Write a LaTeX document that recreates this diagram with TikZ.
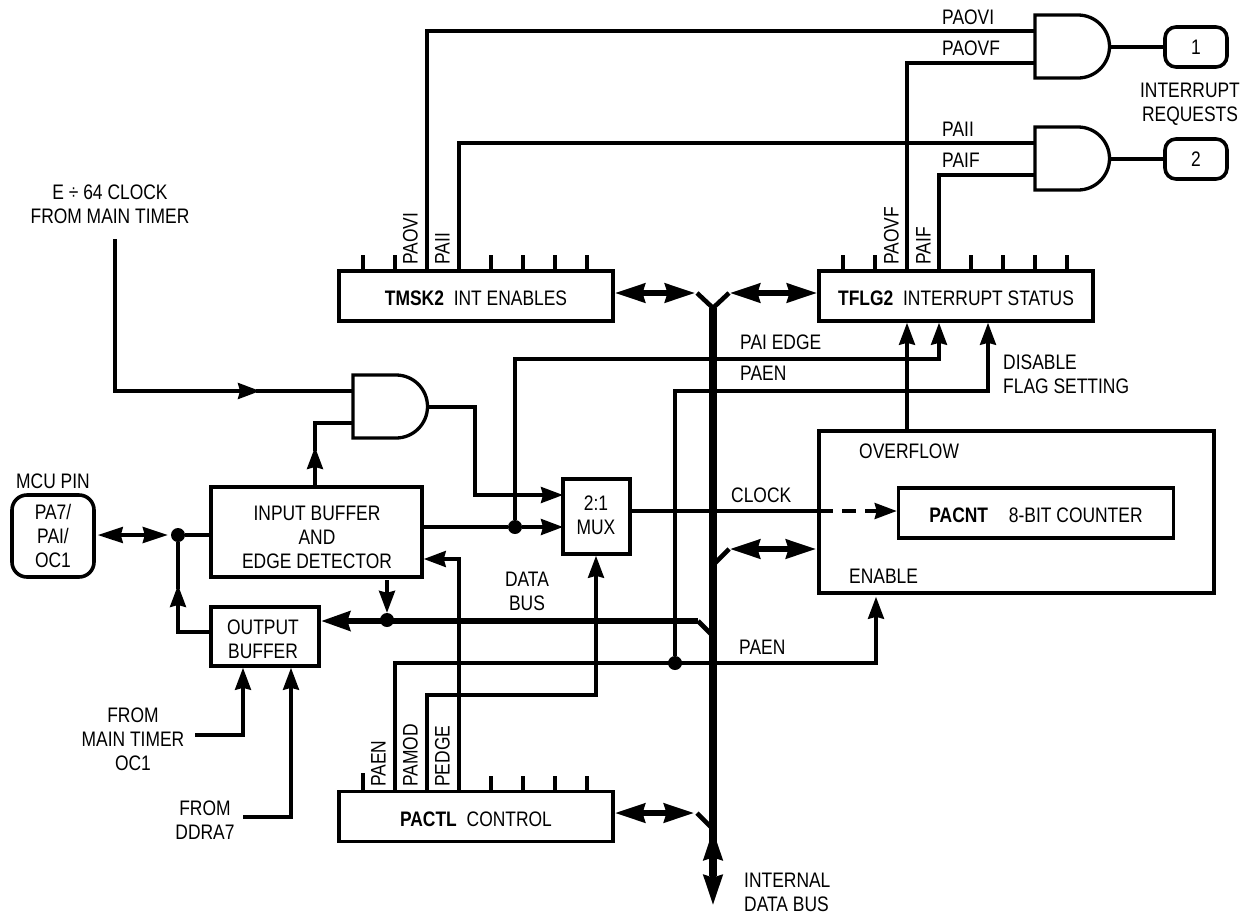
\documentclass[tikz,border=0pt]{standalone}
\usepackage{fontspec}
\setmainfont[FakeStretch=0.83]{Liberation Sans}
\usetikzlibrary{arrows.meta}
\newcommand{\lblfont}{\fontsize{21}{24}\selectfont}
\newcommand{\andgate}[3]{%
  \draw[gateline] (#2,#3) -- ++(43,0) arc[start angle=-90,end angle=90,radius=31.5] -- ++(-43,0) -- cycle;
  \coordinate (#1-a) at (#2,#3+16);
  \coordinate (#1-b) at (#2,#3+48);
  \coordinate (#1-o) at (#2+74,#3+32);
}
\tikzset{
  lbl/.style={font=\lblfont,inner sep=0pt,align=center},
  llbl/.style={lbl,anchor=west},
  vlbl/.style={lbl,rotate=90,anchor=west,text height=15pt,text depth=0pt},
  box/.style={lbl,draw,line width=3.6pt},
  regbox/.style={box,minimum width=274pt,minimum height=50pt,text height=19pt,text depth=0pt},
  term/.style={box,rounded corners=11pt,minimum width=62pt,minimum height=40pt},
  gateline/.style={line width=3.3pt,line join=miter},
  wire/.style={line width=3.3pt},
  arr/.style={wire,-{Stealth[length=22pt,width=16pt,inset=2pt]}},
  tick/.style={line width=3.3pt},
  junct/.style={circle,fill,inner sep=0pt,minimum size=14pt},
  busline/.style={line width=7.5pt},
  dbus/.style={line width=6.8pt,-{Stealth[length=29pt,width=19pt,inset=2.5pt]}},
  bra/.style={line width=4.6pt},
  biarr/.style={line width=5.4pt,{Stealth[length=30pt,width=19pt,inset=2.5pt]}-{Stealth[length=30pt,width=19pt,inset=2.5pt]}},
  biwire/.style={wire,{Stealth[length=25pt,width=16pt,inset=2pt]}-{Stealth[length=25pt,width=16pt,inset=2pt]}},
}
\begin{document}
\begin{tikzpicture}[x=1pt,y=-1pt]
  \useasboundingbox (0,0) rectangle (1247,916);

  % registers
  \node[regbox] (tmsk) at (476,296) {\textbf{TMSK2}\hspace{5pt} INT ENABLES};
  \node[regbox] (tflg) at (956,296) {\textbf{TFLG2}\hspace{5pt} INTERRUPT STATUS};
  \node[regbox] (pactl) at (476,816.5) {\textbf{PACTL}\hspace{5pt} CONTROL};
  \foreach \x in {363,395,491,523,555,587} \draw[tick] (\x,255) -- (\x,271);
  \foreach \x in {843,875,971,1003,1035,1067} \draw[tick] (\x,255) -- (\x,271);
  \foreach \x in {491,523,555,587} \draw[tick] (\x,776) -- (\x,791);
  \draw[tick] (363,773) -- (363,791);

  % blocks
  \node[box,rounded corners=15pt,minimum width=82pt,minimum height=82pt] (pin) at (53,536) {PA7/\\PAI/\\OC1};
  \node[box,minimum width=211pt,minimum height=90pt] (ibuf) at (316.5,532) {};
  \node[lbl] (ibuftxt) at (317,537) {INPUT BUFFER\\AND\\EDGE DETECTOR};
  \node[box,minimum width=108pt,minimum height=59pt] (obuf) at (265,636.5) {};
  \node[lbl] (obuftxt) at (263,639) {OUTPUT\\BUFFER};
  \node[box,minimum width=67pt,minimum height=75pt] (mux) at (596.5,516.5) {};
  \node[lbl] (muxtxt) at (596,515) {2:1\\MUX};
  \node[box,minimum width=395pt,minimum height=162pt] (ovfbox) at (1016.5,512) {};
  \node[regbox,minimum width=275pt] (cntbox) at (1036,513) {\textbf{PACNT}\hspace{16pt} 8-BIT COUNTER};
  \node[term] (tone) at (1196,47) {1};
  \node[term] (ttwo) at (1196,159) {2};

  % gates
  \andgate{gatea}{1035}{15}
  \andgate{gateb}{1035}{127}
  \andgate{gatec}{353}{375}
  \draw[wire] (gatea-o) -- (tone);
  \draw[wire] (gateb-o) -- (ttwo);

  % junctions
  \node[junct] (dotpin) at (178,535) {};
  \node[junct] (dotdata) at (387,620) {};
  \node[junct] (dotedge) at (515,527) {};
  \node[junct] (dotpaen) at (675,663) {};

  % register bits to gates
  \coordinate (paovi) at (427,271);
  \coordinate (paii) at (459,271);
  \coordinate (paovf) at (907,271);
  \coordinate (paif) at (939,271);
  \draw[wire] (paovi) |- (gatea-a);
  \draw[wire] (paii) |- (gateb-a);
  \draw[wire] (paovf) |- (gatea-b);
  \draw[wire] (paif) |- (gateb-b);

  % clock path
  \coordinate (clkin) at (115,239);
  \coordinate (clktip) at (260,391);
  \coordinate (ibufup) at (315,487);
  \coordinate (ibuftip) at (315,447);
  \coordinate (muxa) at (563,495);
  \coordinate (muxb) at (563,527);
  \coordinate (corner) at (475,407);
  \coordinate (ibufr) at (422,527);
  \coordinate (muxo) at (630,511);
  \coordinate (clkbox) at (819,511);
  \draw[arr] (clkin) |- (clktip);
  \draw[wire,shorten <=-4pt] (clktip) -- (gatec-a);
  \draw[arr] (ibufup) -- (ibuftip);
  \draw[wire,shorten <=-4pt] (ibuftip) |- (gatec-b);
  \draw[arr] (gatec-o) -| (corner |- muxa) -- (muxa);
  \draw[wire] (ibufr) -- (dotedge);
  \draw[arr] (dotedge) -- (muxb);
  \draw[wire] (muxo) -- (clkbox);
  \draw[arr,dash pattern=on 14pt off 9pt] (clkbox) -- (clkbox -| cntbox.west);

  % flags and status
  \coordinate (ovfup) at (907,431);
  \coordinate (edgec) at (939,359);
  \coordinate (disc) at (988,391);
  \draw[arr] (ovfup) -- (ovfup |- tflg.south);
  \draw[arr] (dotedge) |- (edgec) -- (edgec |- tflg.south);
  \draw[arr] (dotpaen) |- (disc) -- (disc |- tflg.south);

  % control bits
  \coordinate (paen) at (395,791);
  \coordinate (pamod) at (427,791);
  \coordinate (pedge) at (459,791);
  \coordinate (enc) at (876,663);
  \coordinate (modc) at (596,695);
  \coordinate (pedc) at (459,559);
  \draw[arr,shorten >=2pt] (paen) |- (enc) -- (enc |- ovfbox.south);
  \draw[arr] (pamod) |- (modc) -- (modc |- mux.south);
  \draw[arr] (pedge) -- (pedc) -- (pedc -| ibuf.east);

  % pin and output buffer
  \coordinate (obufl) at (211,632);
  \coordinate (obuftip) at (178,585);
  \coordinate (ibufd) at (387,580);
  \coordinate (ibufl) at (211,535);
  \draw[biwire,shorten <=2pt,shorten >=3pt] (pin.east |- dotpin) -- (dotpin);
  \draw[wire] (dotpin) -- (ibufl);
  \draw[arr] (obufl) -| (obuftip);
  \draw[wire,shorten <=-4pt] (obuftip) -- (dotpin);
  \draw[arr] (ibufd) -- (dotdata);

  % inputs to output buffer
  \coordinate (oca) at (195,735);
  \coordinate (ocb) at (243,735);
  \coordinate (dda) at (243,817);
  \coordinate (ddb) at (291,817);
  \draw[arr] (oca) -- (ocb) -- (ocb |- obuf.south);
  \draw[arr] (dda) -- (ddb) -- (ddb |- obuf.south);

  % internal data bus
  \coordinate (bustop) at (713,308);
  \coordinate (busend) at (713,876);
  \coordinate (busa) at (713,830);
  \coordinate (busb) at (713,905);
  \coordinate (yl) at (697,293);
  \coordinate (yr) at (729,293);
  \coordinate (ylarr) at (695,293);
  \coordinate (yrarr) at (730,293);
  \coordinate (sbra) at (713,565);
  \coordinate (sbrb) at (729,549);
  \coordinate (dbra) at (713,636);
  \coordinate (dbrb) at (698,621);
  \coordinate (cbra) at (713,829);
  \coordinate (cbrb) at (697,813);
  \coordinate (tlarr) at (615,293);
  \coordinate (trarr) at (817,293);
  \coordinate (slarr) at (730,549);
  \coordinate (srarr) at (816,549);
  \coordinate (clarr) at (615,813);
  \coordinate (crarr) at (694,813);
  \draw[busline] (bustop) -- (busend);
  \draw[bra,line join=miter] (yl) -- (bustop) -- (yr);
  \draw[biarr] (busa) -- (busb);
  \draw[biarr] (tlarr) -- (ylarr);
  \draw[biarr] (yrarr) -- (trarr);
  \draw[biarr] (slarr) -- (srarr);
  \draw[biarr] (clarr) -- (crarr);
  \draw[bra] (sbra) -- (sbrb);
  \draw[bra] (dbra) -- (dbrb);
  \draw[bra] (cbra) -- (cbrb);
  \draw[dbus] (dbrb) -- (obuf.east |- dbrb);

  % labels
  \node[llbl] (lpaovi) at (942,17) {PAOVI};
  \node[llbl] (lpaovf) at (942,48) {PAOVF};
  \node[llbl] (lpaii) at (942,129) {PAII};
  \node[llbl] (lpaif) at (942,160) {PAIF};
  \node[lbl] (lint) at (1190,104) {INTERRUPT\\REQUESTS};
  \node[lbl] (lclk) at (110,204) {E ÷ 64 CLOCK\\FROM MAIN TIMER};
  \node[llbl] (ledge) at (740,342) {PAI EDGE};
  \node[llbl] (lpaen) at (740,373) {PAEN};
  \node[lbl,anchor=west,align=left] (ldis) at (1003,374) {DISABLE\\FLAG SETTING};
  \node[lbl] (lmcu) at (53,481) {MCU PIN};
  \node[llbl] (lclock) at (731,495) {CLOCK};
  \node[llbl] (lovf) at (859,451) {OVERFLOW};
  \node[llbl] (lena) at (849,576) {ENABLE};
  \node[lbl] (ldata) at (527,591) {DATA\\BUS};
  \node[llbl] (lpaen2) at (739,647) {PAEN};
  \node[lbl] (lfrom) at (133,739) {FROM\\MAIN TIMER\\OC1};
  \node[lbl] (lddr) at (205,820) {FROM\\DDRA7};
  \node[lbl,anchor=west,align=left] (lbus) at (744,892) {INTERNAL\\DATA BUS};

  % bit names
  \node[vlbl] (vpaovi) at (410,265) {PAOVI};
  \node[vlbl] (vpaii) at (442,265) {PAII};
  \node[vlbl] (vpaovf) at (891,265) {PAOVF};
  \node[vlbl] (vpaif) at (923,265) {PAIF};
  \node[vlbl] (vpaen) at (378,787) {PAEN};
  \node[vlbl] (vpamod) at (410,787) {PAMOD};
  \node[vlbl] (vpedge) at (442,787) {PEDGE};
\end{tikzpicture}
\end{document}
